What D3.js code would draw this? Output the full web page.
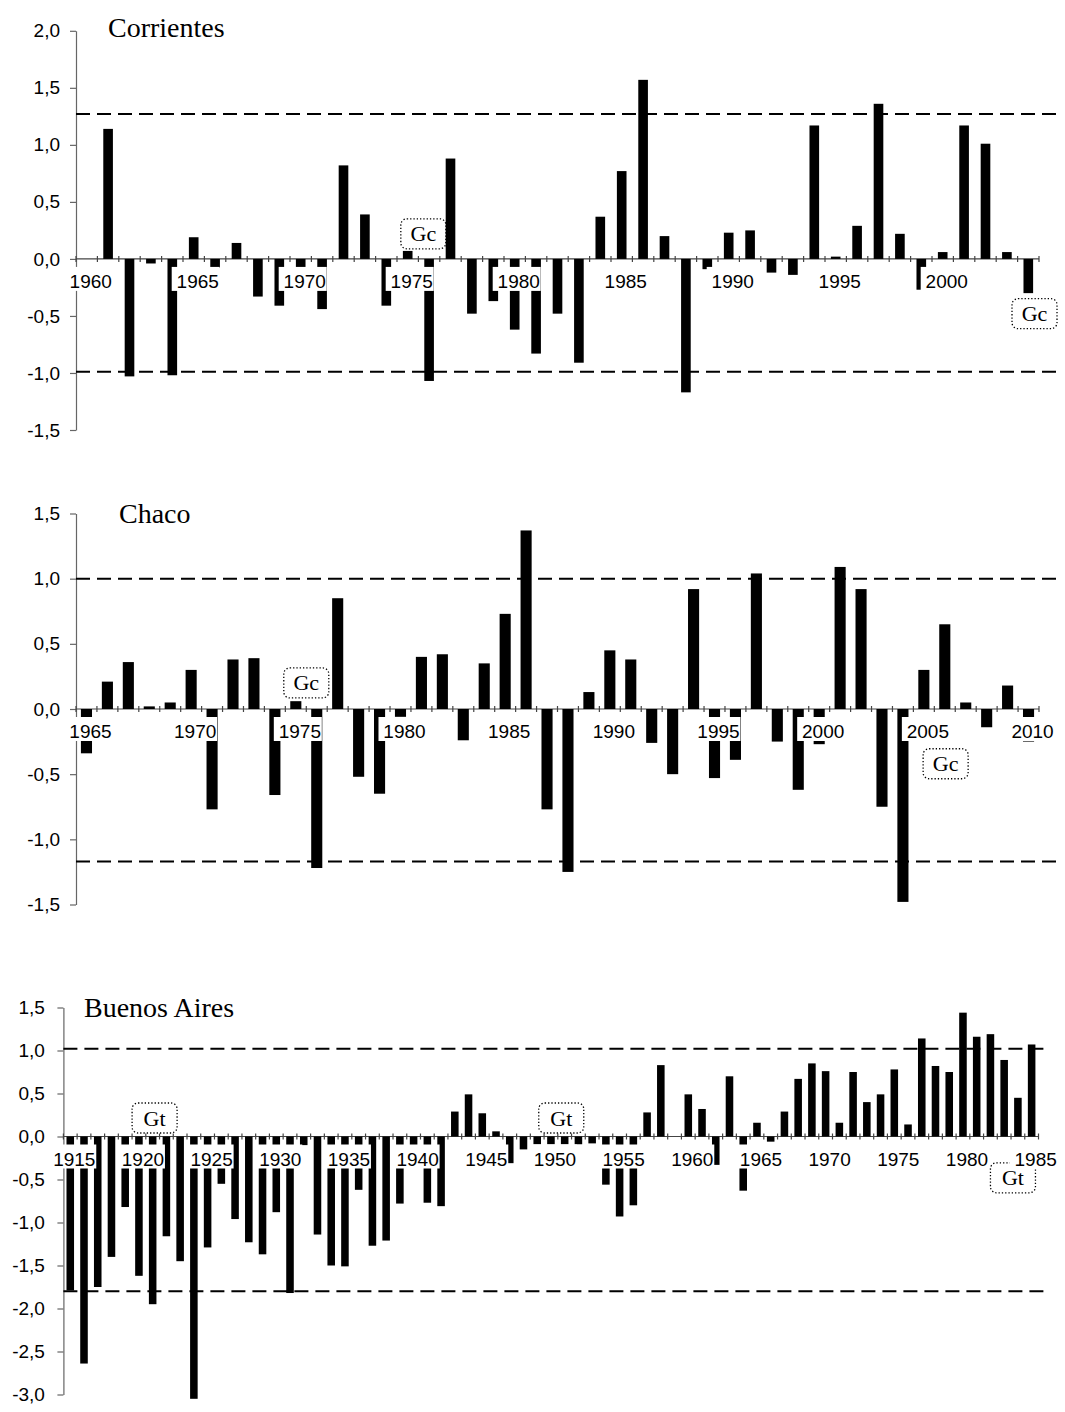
<!DOCTYPE html>
<html>
<head>
<meta charset="utf-8">
<script src="https://cdn.jsdelivr.net/npm/d3@7"></script>
<style>
  body { margin: 0; background: #fff; }
</style>
</head>
<body>
<div id="chart"></div>
<script>
// ---- data ----
const corrYears = d3.range(1960, 2005)
const corrValues = [
  null, 1.14, -1.03, -0.04, -1.02, 0.19, -0.08, 0.14, -0.33, -0.41,
  -0.09, -0.44, 0.82, 0.39, -0.41, 0.07, -1.07, 0.88, -0.48, -0.37,
  -0.62, -0.83, -0.48, -0.91, 0.37, 0.77, 1.57, 0.20, -1.17, -0.09,
  0.23, 0.25, -0.12, -0.14, 1.17, 0.02, 0.29, 1.36, 0.22, -0.27,
  0.06, 1.17, 1.01, 0.06, -0.30
]
const corrLimits = [1.27, -0.99]
const corrTicks = [2.0, 1.5, 1.0, 0.5, 0.0, -0.5, -1.0, -1.5]
const corrNotes = [
  { text: 'Gc', year: 1975.73, value: 0.22 },
  { text: 'Gc', year: 2004.29, value: -0.48 },
]

const chacoYears = d3.range(1965, 2011)
const chacoValues = [
  -0.34, 0.21, 0.36, 0.02, 0.05, 0.30, -0.77, 0.38, 0.39, -0.66,
  0.06, -1.22, 0.85, -0.52, -0.65, -0.06, 0.40, 0.42, -0.24, 0.35,
  0.73, 1.37, -0.77, -1.25, 0.13, 0.45, 0.38, -0.26, -0.50, 0.92,
  -0.53, -0.39, 1.04, -0.25, -0.62, -0.27, 1.09, 0.92, -0.75, -1.48,
  0.30, 0.65, 0.05, -0.14, 0.18, -0.25
]
const chacoLimits = [1.00, -1.17]
const chacoTicks = [1.5, 1.0, 0.5, 0.0, -0.5, -1.0, -1.5]
const chacoNotes = [
  { text: 'Gc', year: 1975.5, value: 0.20 },
  { text: 'Gc', year: 2006.04, value: -0.42 },
]

const baYears = d3.range(1915, 1986)
const baValues = [
  -1.79, -2.64, -1.75, -1.40, -0.82, -1.62, -1.95, -1.16, -1.45, -3.05,
  -1.29, -0.55, -0.96, -1.23, -1.37, -0.88, -1.82, -0.10, -1.14, -1.50,
  -1.51, -0.62, -1.27, -1.21, -0.78, -0.10, -0.77, -0.81, 0.29, 0.49,
  0.27, 0.06, -0.31, -0.15, -0.09, -0.09, -0.09, -0.09, -0.08, -0.56,
  -0.93, -0.80, 0.28, 0.83, null, 0.49, 0.32, -0.33, 0.70, -0.63,
  0.16, -0.06, 0.29, 0.67, 0.85, 0.76, 0.16, 0.75, 0.40, 0.49,
  0.78, 0.14, 1.14, 0.82, 0.75, 1.44, 1.16, 1.19, 0.89, 0.45,
  1.07
]
const baLimits = [1.02, -1.80]
const baTicks = [1.5, 1.0, 0.5, 0.0, -0.5, -1.0, -1.5, -2.0, -2.5, -3.0]
const baNotes = [
  { text: 'Gt', year: 1921.14, value: 0.215 },
  { text: 'Gt', year: 1950.75, value: 0.215 },
  { text: 'Gt', year: 1983.64, value: -0.48 },
]

// ---- layout ----
const W = 1065, H = 1412
const panels = [
  { title: 'Corrientes', years: corrYears, values: corrValues, limits: corrLimits, ticks: corrTicks, notes: corrNotes,
    domain: [-1.5, 2.0], x0: 76, x1: 1039, yTop: 30.8, yBot: 430, barFrac: 0.45, pad: 10, dashEnd: 1063, titleX: 108, titleY: 37 },
  { title: 'Chaco', years: chacoYears, values: chacoValues, limits: chacoLimits, ticks: chacoTicks, notes: chacoNotes,
    domain: [-1.5, 1.5], x0: 76, x1: 1039, yTop: 513.5, yBot: 904.5, barFrac: 0.53, pad: 10, dashEnd: 1063, titleX: 119, titleY: 523 },
  { title: 'Buenos Aires', years: baYears, values: baValues, limits: baLimits, ticks: baTicks, notes: baNotes,
    domain: [-3.0, 1.5], x0: 63.4, x1: 1038.5, yTop: 1007.5, yBot: 1394.5, barFrac: 0.55, pad: 12.5, dashEnd: 1050, titleX: 84, titleY: 1017 },
]

const sans = '"Liberation Sans", Arial, Helvetica, sans-serif'
const serif = '"Liberation Serif", "Times New Roman", serif'
const fmt = d3.formatLocale({ decimal: ',', thousands: '.', grouping: [3], currency: ['', ''], minus: '-' }).format('.1f')

const svg = d3.select('#chart').append('svg')
  .attr('width', W)
  .attr('height', H)
  .attr('viewBox', [0, 0, W, H])

const drawPanel = (p) => {
  const g = svg.append('g')
  const x = d3.scaleBand().domain(p.years).range([p.x0, p.x1]).padding(0)
  const y = d3.scaleLinear().domain(p.domain).range([p.yBot, p.yTop])
  const step = x.step()
  const y0 = y(0)
  const bw = step * p.barFrac

  // y axis
  const yAxis = g.append('g')
    .attr('transform', `translate(${p.x0},0)`)
    .call(d3.axisLeft(y).tickValues(p.ticks).tickSize(6).tickSizeOuter(0).tickPadding(p.pad).tickFormat(fmt))
  yAxis.select('.domain').attr('stroke', '#666').attr('stroke-width', 1.2)
  yAxis.selectAll('.tick line').attr('stroke', '#666').attr('stroke-width', 1.2)
  yAxis.selectAll('.tick text')
    .attr('font-family', sans).attr('font-size', 19).attr('fill', '#000')

  // title
  g.append('text')
    .attr('x', p.titleX).attr('y', p.titleY)
    .attr('font-family', serif).attr('font-size', 28)
    .text(p.title)

  // x axis line + category ticks
  g.append('line')
    .attr('x1', p.x0).attr('x2', p.x1).attr('y1', y0).attr('y2', y0)
    .attr('stroke', '#444').attr('stroke-width', 1.2)
  g.selectAll('.xtick')
    .data(d3.range(p.years.length + 1))
    .enter().append('line')
    .attr('class', 'xtick')
    .attr('x1', i => p.x0 + i * step).attr('x2', i => p.x0 + i * step)
    .attr('y1', y0 - 3).attr('y2', y0 + 3)
    .attr('stroke', '#444').attr('stroke-width', 1.2)

  // bars
  const rows = p.years.map((yr, i) => ({ year: yr, value: p.values[i] })).filter(d => d.value !== null)
  g.selectAll('.bar')
    .data(rows)
    .enter().append('rect')
    .attr('class', 'bar')
    .attr('x', d => x(d.year) + (step - bw) / 2)
    .attr('width', bw)
    .attr('y', d => Math.min(y(d.value), y0))
    .attr('height', d => Math.abs(y(d.value) - y0))
    .attr('fill', '#000')

  // dashed limit lines
  g.selectAll('.limit')
    .data(p.limits)
    .enter().append('line')
    .attr('class', 'limit')
    .attr('x1', p.x0).attr('x2', p.dashEnd)
    .attr('y1', d => y(d)).attr('y2', d => y(d))
    .attr('stroke', '#000').attr('stroke-width', 2)
    .attr('stroke-dasharray', '14,7')

  // Gc / Gt notes
  const noteX = (yr) => {
    const f = Math.floor(yr)
    return x(f) + step / 2 + (yr - f) * step
  }
  const note = g.selectAll('.note')
    .data(p.notes)
    .enter().append('g')
    .attr('class', 'note')
    .attr('transform', d => `translate(${noteX(d.year)},${y(d.value)})`)
  note.append('rect')
    .attr('x', -22.5).attr('y', -15).attr('width', 45).attr('height', 30)
    .attr('rx', 6)
    .attr('fill', 'none')
    .attr('stroke', '#000').attr('stroke-width', 1.3)
    .attr('stroke-dasharray', '1.3,2')
  note.append('text')
    .attr('text-anchor', 'middle').attr('y', 7.5)
    .attr('font-family', serif).attr('font-size', 22)
    .text(d => d.text)

  // year labels on white boxes (they knock out the bars)
  const lab = g.selectAll('.xlab')
    .data(p.years.filter(yr => yr % 5 === 0))
    .enter().append('g')
    .attr('class', 'xlab')
    .attr('transform', d => `translate(${x(d) + step / 2},${y0})`)
  lab.append('rect')
    .attr('x', -22).attr('y', 8).attr('width', 48).attr('height', 24)
    .attr('fill', '#fff')
  lab.append('text')
    .attr('x', 4).attr('y', 29)
    .attr('text-anchor', 'middle')
    .attr('font-family', sans).attr('font-size', 19)
    .text(d => d)
}

panels.forEach(drawPanel)
</script>
</body>
</html>
